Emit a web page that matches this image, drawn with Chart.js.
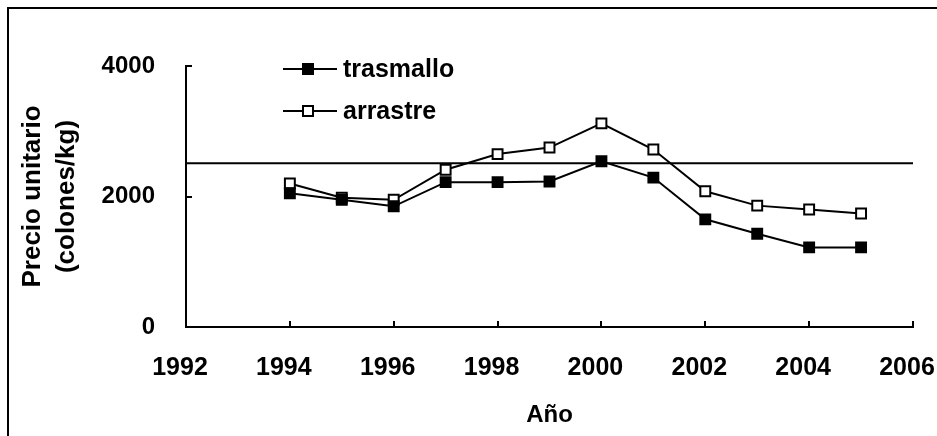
<!DOCTYPE html>
<html>
<head>
<meta charset="utf-8">
<script src="https://cdn.jsdelivr.net/npm/chart.js@4.4.1/dist/chart.umd.min.js"></script>
<style>
  body { margin: 0; background: #fff; }
</style>
</head>
<body>
<canvas id="chart" width="937" height="436"></canvas>
<script>
Chart.defaults.font.family = '"Liberation Sans", Arial, sans-serif';
Chart.defaults.font.size = 24;
Chart.defaults.font.weight = 'bold';
Chart.defaults.color = 'black';

// values
let years = [1994, 1995, 1996, 1997, 1998, 1999, 2000, 2001, 2002, 2003, 2004, 2005]
let trasmallo = [2050, 1950, 1850, 2220, 2220, 2230, 2540, 2290, 1650, 1430, 1220, 1220]
let arrastre = [2200, 1980, 1950, 2410, 2650, 2750, 3120, 2720, 2080, 1860, 1800, 1740]
let refLevel = 2510

let seriesNames = ['trasmallo', 'arrastre']
let xTicks = [1992, 1994, 1996, 1998, 2000, 2002, 2004, 2006]
let yTicks = [0, 2000, 4000]

function toPoints(vals) {
  return vals.map((v, i) => ({ x: years[i], y: v }))
}

// frame, inward tick marks and the legend inside the plot
const decor = {
  id: 'decor',
  beforeDraw(chart) {
    const c = chart.ctx
    c.save()
    c.strokeStyle = 'black'
    c.lineWidth = 2
    c.beginPath()
    c.moveTo(8, 436)
    c.lineTo(8, 8)
    c.lineTo(937, 8)
    c.stroke()
    c.restore()
  },
  afterDraw(chart) {
    const c = chart.ctx
    const xs = chart.scales.x
    const ys = chart.scales.y
    c.save()
    c.strokeStyle = 'black'
    c.lineWidth = 2
    c.beginPath()
    xTicks.forEach(v => {
      let px = Math.round(xs.getPixelForValue(v))
      c.moveTo(px, ys.bottom)
      c.lineTo(px, ys.bottom - 6)
    })
    yTicks.forEach(v => {
      let py = Math.round(ys.getPixelForValue(v))
      c.moveTo(xs.left, py)
      c.lineTo(xs.left + 6, py)
    })
    c.stroke()

    // legend
    let rows = [69, 111]
    for (let i = 0; i < seriesNames.length; i++) {
      let ds = chart.data.datasets[i]
      let y = rows[i]
      c.beginPath()
      c.moveTo(283, y)
      c.lineTo(337, y)
      c.stroke()
      c.fillStyle = ds.pointBackgroundColor
      c.fillRect(303, y - 5, 10, 10)
      c.strokeRect(303, y - 5, 10, 10)
      c.fillStyle = 'black'
      c.font = 'bold 25px "Liberation Sans", Arial, sans-serif'
      c.textBaseline = 'middle'
      c.textAlign = 'left'
      c.fillText(ds.label, 343, y + 1)
    }
    c.restore()
  }
}

const ctx = document.getElementById('chart').getContext('2d')

var myChart = new Chart(ctx, {
  type: 'line',
  data: {
    datasets: [{
      label: seriesNames[0],
      data: toPoints(trasmallo),
      borderColor: 'black',
      borderWidth: 2,
      pointStyle: 'rect',
      pointRadius: 7,
      pointBorderWidth: 2,
      pointBorderColor: 'black',
      pointBackgroundColor: 'black'
    }, {
      label: seriesNames[1],
      data: toPoints(arrastre),
      borderColor: 'black',
      borderWidth: 2,
      pointStyle: 'rect',
      pointRadius: 7,
      pointBorderWidth: 2,
      pointBorderColor: 'black',
      pointBackgroundColor: 'white'
    }, {
      label: '',
      data: [{ x: xTicks[0], y: refLevel }, { x: xTicks[xTicks.length - 1], y: refLevel }],
      borderColor: 'black',
      borderWidth: 2,
      pointRadius: 0
    }]
  },
  options: {
    responsive: false,
    animation: false,
    events: [],
    layout: {
      padding: { top: 66, right: 24, left: 0, bottom: 0 }
    },
    plugins: {
      legend: { display: false },
      tooltip: { enabled: false }
    },
    scales: {
      x: {
        type: 'linear',
        min: 1992,
        max: 2006,
        grid: { display: false, drawTicks: false },
        border: { display: true, color: 'black', width: 2 },
        ticks: {
          stepSize: 2,
          padding: 26,
          labelOffset: -6,
          maxRotation: 0,
          autoSkip: false,
          font: { size: 25, weight: 'bold' },
          callback: v => String(v)
        },
        title: {
          display: true,
          text: 'Año',
          padding: { top: 0, bottom: 6 }
        },
        afterFit(scale) {
          scale.height = 109
          scale.paddingLeft = 0
          scale.paddingRight = 0
        }
      },
      y: {
        min: 0,
        max: 4000,
        grid: { display: false, drawTicks: false },
        border: { display: true, color: 'black', width: 2 },
        ticks: {
          stepSize: 2000,
          padding: 31,
          callback: v => String(v)
        },
        title: {
          display: true,
          text: ['Precio unitario', '(colones/kg)'],
          font: { size: 26, weight: 'bold', lineHeight: 1.31 },
          padding: { top: 16, bottom: 0 }
        },
        afterFit(scale) {
          scale.width = 186
        }
      }
    }
  },
  plugins: [decor]
})
</script>
</body>
</html>
